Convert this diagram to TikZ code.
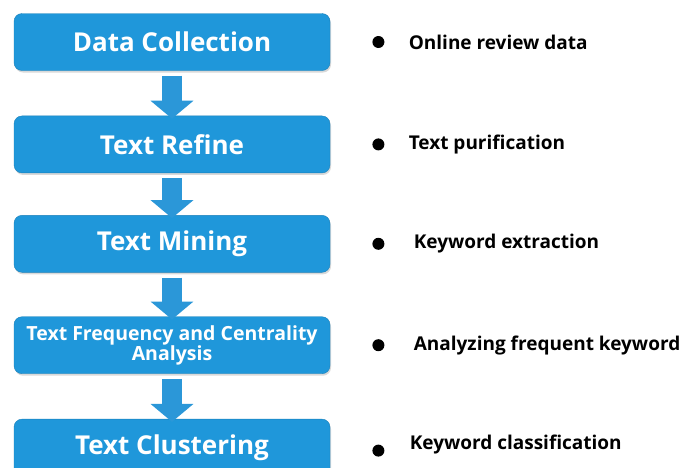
\documentclass[tikz,border=0pt]{standalone}
\usepackage{fontspec}
\setmainfont{Open Sans}
\usepackage{xcolor}
\definecolor{FlowBlue}{HTML}{1F97DA}
\definecolor{ArrowBlue}{HTML}{2B97D8}
\usepackage{tikz}
\usetikzlibrary{arrows.meta, positioning, shadows}
\tikzset{
  stepbox/.style={rectangle, rounded corners=8pt, draw=FlowBlue!85!black, fill=FlowBlue, text=white, minimum width=316pt, minimum height=57pt, font=\fontsize{26}{30}\selectfont\bfseries, align=center, drop shadow={shadow xshift=1pt, shadow yshift=-2pt, opacity=0.3}},
  smallstep/.style={stepbox, inner sep=2pt, font=\fontsize{19.5}{19}\selectfont\bfseries},
  flowarrow/.style={-{Triangle[length=18pt, width=42pt]}, line width=20pt, ArrowBlue},
  dotnode/.style={circle, fill=black, minimum size=12pt, inner sep=0pt},
  notenode/.style={anchor=west, font=\fontsize{19}{22}\selectfont\bfseries, inner sep=0pt}
}
\begin{document}
\begin{tikzpicture}[x=1pt, y=1pt, node distance=44pt]
  \useasboundingbox (0,0) rectangle (683,-467);

  \node[stepbox] (collect) at (172,-42) {Data Collection};
  \node[stepbox, below=45pt of collect] (refine) {Text Refine};
  \node[stepbox, below=42pt of refine] (mining) {Text Mining};
  \node[smallstep, below=44pt of mining] (freq) {Text Frequency and Centrality\\Analysis};
  \node[stepbox, below=45pt of freq] (cluster) {Text Clustering};

  \draw[flowarrow] ([yshift=-5pt]collect.south) -- ([yshift=-3pt]refine.north);
  \draw[flowarrow] ([yshift=-5pt]refine.south) -- ([yshift=-3pt]mining.north);
  \draw[flowarrow] ([yshift=-5pt]mining.south) -- ([yshift=-3pt]freq.north);
  \draw[flowarrow] ([yshift=-5pt]freq.south) -- ([yshift=-3pt]cluster.north);

  \node[dotnode, right=42pt of collect] (dot1) {};
  \node[dotnode, right=42pt of refine] (dot2) {};
  \node[dotnode, right=42pt of mining] (dot3) {};
  \node[dotnode, right=42pt of freq] (dot4) {};
  \node[dotnode, right=42pt of cluster, yshift=-3pt] (dot5) {};

  \node[notenode, right=24pt of dot1] (note1) {Online review data};
  \node[notenode, right=24pt of dot2] (note2) {Text purification};
  \node[notenode, right=29pt of dot3] (note3) {Keyword extraction};
  \node[notenode, right=29pt of dot4] (note4) {Analyzing frequent keyword};
  \node[notenode, right=25pt of dot5, yshift=6pt] (note5) {Keyword classification};
\end{tikzpicture}
\end{document}
